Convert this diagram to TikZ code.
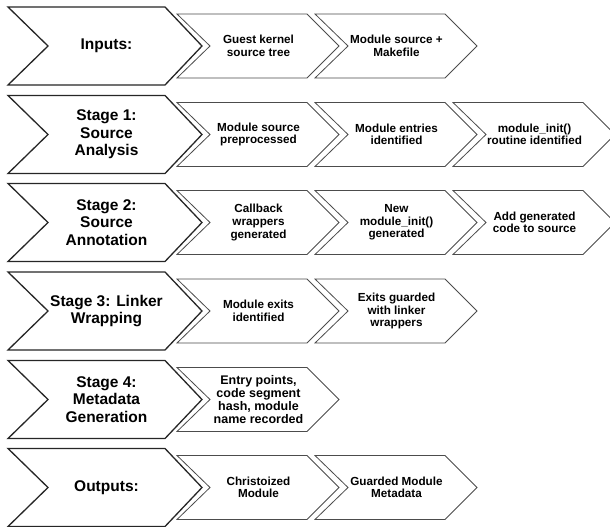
\documentclass[tikz,border=0pt]{standalone}
\usepackage{fontspec}
\setmainfont{Liberation Sans}
\begin{document}
\begin{tikzpicture}[x=1pt,y=-1pt,
  bigchev/.style={draw=black!85,line width=1.3pt,fill=white,line join=miter},
  smallchev/.style={draw=black!70,line width=0.8pt,fill=white,line join=miter},
  bigtext/.style={font=\bfseries\fontsize{15.5}{17.5}\selectfont,align=center,text=black,inner sep=0pt},
  smalltext/.style={font=\bfseries\fontsize{11.7}{12.6}\selectfont,align=center,text=black,inner sep=0pt}]
\useasboundingbox (0,0) rectangle (610,527);
\newcommand\bigchevron[1]{%
  \draw[bigchev] (8,#1-39) -- (165,#1-39) -- (202,#1) -- (165,#1+39) -- (8,#1+39) -- (48,#1) -- cycle;}
\newcommand\smallchevron[2]{%
  \draw[smallchev] (#1,#2-32) -- (#1+130,#2-32) -- (#1+162,#2) -- (#1+130,#2+32) -- (#1,#2+32) -- (#1+33,#2) -- cycle;}
% row 1
\smallchevron{177}{46}\smallchevron{315}{46}
\bigchevron{46}
\node[bigtext] (r1) at (106.5,46) {Inputs:};
\node[smalltext] (r1a) at (258.5,46) {Guest kernel\\source tree};
\node[smalltext] (r1b) at (396.5,46) {Module source +\\Makefile};
% row 2
\smallchevron{177}{134.5}\smallchevron{315}{134.5}\smallchevron{453}{134.5}
\bigchevron{134.5}
\node[bigtext] (r2) at (106.5,134.5) {Stage 1:\\Source\\Analysis};
\node[smalltext] (r2a) at (258.5,134.5) {Module source\\preprocessed};
\node[smalltext] (r2b) at (396.5,134.5) {Module entries\\identified};
\node[smalltext] (r2c) at (534.5,134.5) {module\_init()\\routine identified};
% row 3
\smallchevron{177}{222.5}\smallchevron{315}{222.5}\smallchevron{453}{222.5}
\bigchevron{222.5}
\node[bigtext] (r3) at (106.5,222.5) {Stage 2:\\Source\\Annotation};
\node[smalltext] (r3a) at (258.5,222.5) {Callback\\wrappers\\generated};
\node[smalltext] (r3b) at (396.5,222.5) {New\\module\_init()\\generated};
\node[smalltext] (r3c) at (534.5,222.5) {Add generated\\code to source};
% row 4
\smallchevron{177}{311}\smallchevron{315}{311}
\bigchevron{311}
\node[bigtext] (r4) at (106.5,311) {Stage 3: Linker\\Wrapping};
\node[smalltext] (r4a) at (258.5,311) {Module exits\\identified};
\node[smalltext] (r4b) at (396.5,311) {Exits guarded\\with linker\\wrappers};
% row 5
\smallchevron{177}{399.5}
\bigchevron{399.5}
\node[bigtext] (r5) at (106.5,399.5) {Stage 4:\\Metadata\\Generation};
\node[smalltext,font=\bfseries\fontsize{12.5}{13.3}\selectfont] (r5a) at (258.5,399.5) {Entry points,\\code segment\\hash, module\\name recorded};
% row 6
\smallchevron{177}{487.5}\smallchevron{315}{487.5}
\bigchevron{487.5}
\node[bigtext] (r6) at (106.5,487.5) {Outputs:};
\node[smalltext] (r6a) at (258.5,487.5) {Christoized\\Module};
\node[smalltext] (r6b) at (396.5,487.5) {Guarded Module\\Metadata};
\end{tikzpicture}
\end{document}
